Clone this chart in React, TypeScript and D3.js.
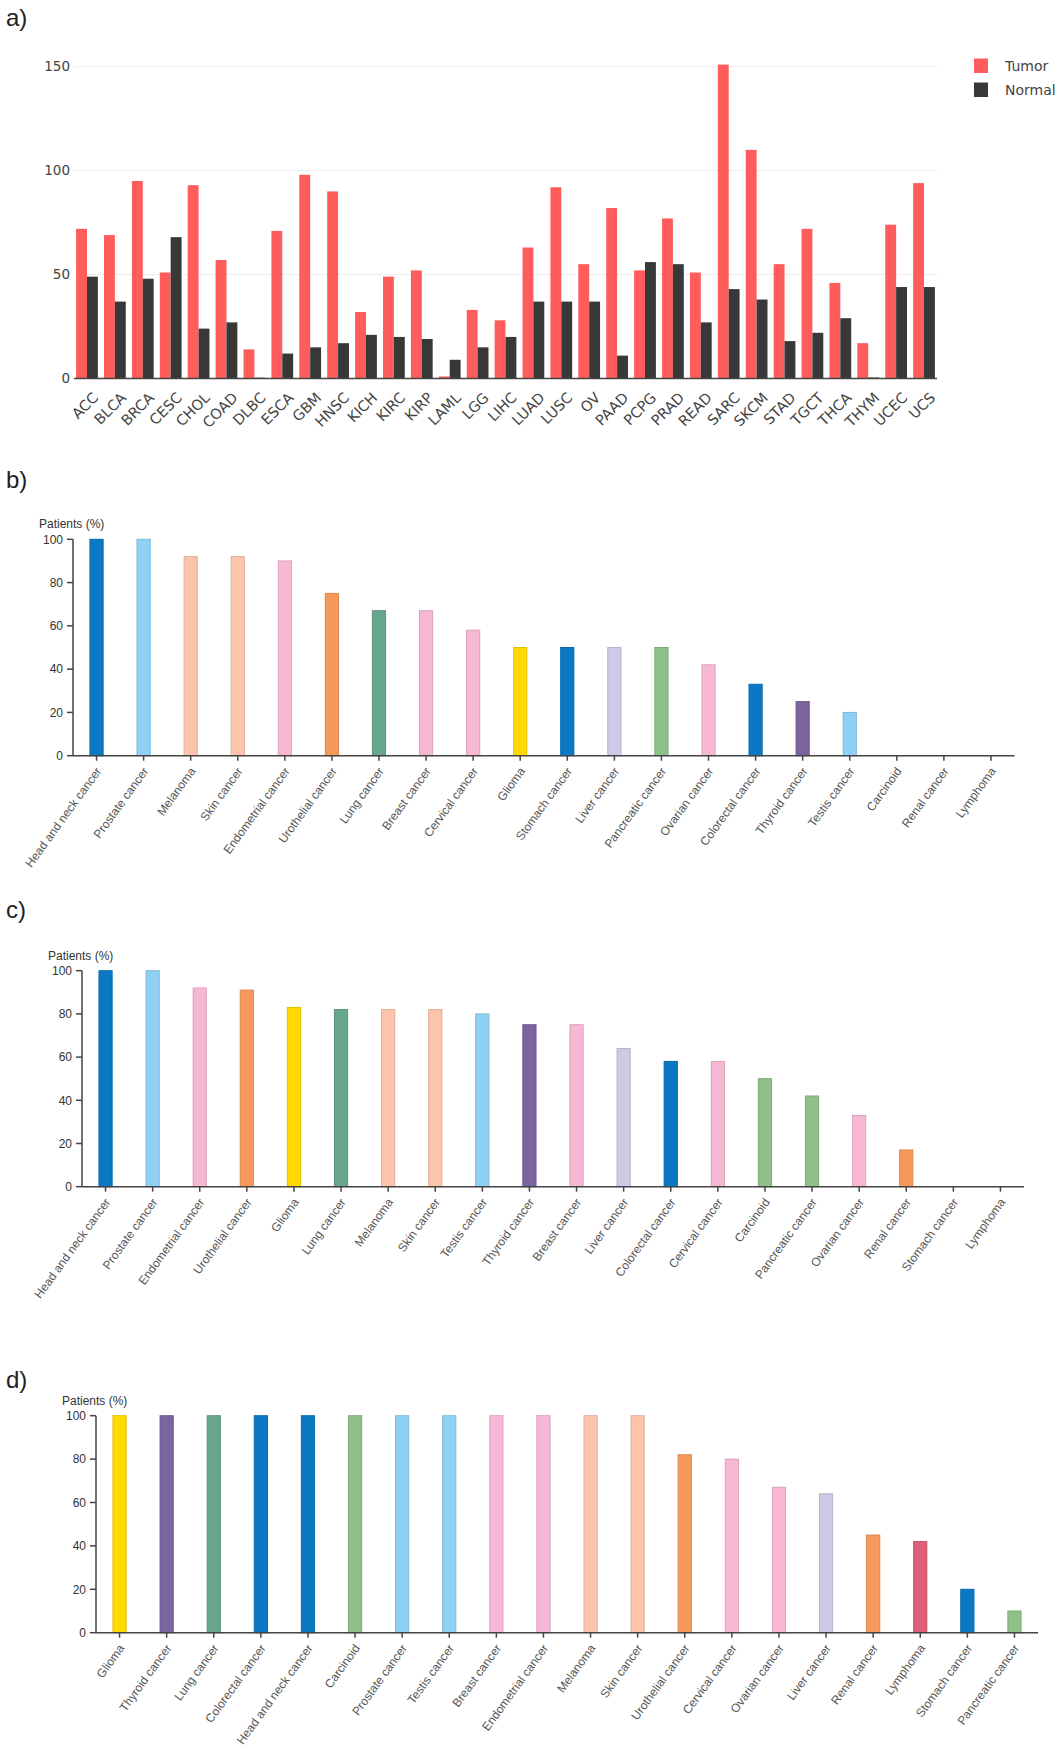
import * as d3 from 'd3';

// a) TCGA cohorts, tumor vs normal
const tcgaTypes = ['ACC', 'BLCA', 'BRCA', 'CESC', 'CHOL', 'COAD', 'DLBC', 'ESCA', 'GBM', 'HNSC', 'KICH', 'KIRC', 'KIRP', 'LAML', 'LGG', 'LIHC', 'LUAD', 'LUSC', 'OV', 'PAAD', 'PCPG', 'PRAD', 'READ', 'SARC', 'SKCM', 'STAD', 'TGCT', 'THCA', 'THYM', 'UCEC', 'UCS'];
const tumorValues = [72, 69, 95, 51, 93, 57, 14, 71, 98, 90, 32, 49, 52, 1, 33, 28, 63, 92, 55, 82, 52, 77, 51, 151, 110, 55, 72, 46, 17, 74, 94];
const normalValues = [49, 37, 48, 68, 24, 27, 0.4, 12, 15, 17, 21, 20, 19, 9, 15, 20, 37, 37, 37, 11, 56, 55, 27, 43, 38, 18, 22, 29, 0.5, 44, 44];
const seriesNames = ['Tumor', 'Normal'];
const yTicksA = [0, 50, 100, 150];

// b)
const cancersB = ['Head and neck cancer', 'Prostate cancer', 'Melanoma', 'Skin cancer', 'Endometrial cancer', 'Urothelial cancer', 'Lung cancer', 'Breast cancer', 'Cervical cancer', 'Glioma', 'Stomach cancer', 'Liver cancer', 'Pancreatic cancer', 'Ovarian cancer', 'Colorectal cancer', 'Thyroid cancer', 'Testis cancer', 'Carcinoid', 'Renal cancer', 'Lymphoma'];
const patientsB = [100, 100, 92, 92, 90, 75, 67, 67, 58, 50, 50, 50, 50, 42, 33, 25, 20, 0, 0, 0];

// c)
const cancersC = ['Head and neck cancer', 'Prostate cancer', 'Endometrial cancer', 'Urothelial cancer', 'Glioma', 'Lung cancer', 'Melanoma', 'Skin cancer', 'Testis cancer', 'Thyroid cancer', 'Breast cancer', 'Liver cancer', 'Colorectal cancer', 'Cervical cancer', 'Carcinoid', 'Pancreatic cancer', 'Ovarian cancer', 'Renal cancer', 'Stomach cancer', 'Lymphoma'];
const patientsC = [100, 100, 92, 91, 83, 82, 82, 82, 80, 75, 75, 64, 58, 58, 50, 42, 33, 17, 0, 0];

// d)
const cancersD = ['Glioma', 'Thyroid cancer', 'Lung cancer', 'Colorectal cancer', 'Head and neck cancer', 'Carcinoid', 'Prostate cancer', 'Testis cancer', 'Breast cancer', 'Endometrial cancer', 'Melanoma', 'Skin cancer', 'Urothelial cancer', 'Cervical cancer', 'Ovarian cancer', 'Liver cancer', 'Renal cancer', 'Lymphoma', 'Stomach cancer', 'Pancreatic cancer'];
const patientsD = [100, 100, 100, 100, 100, 100, 100, 100, 100, 100, 100, 100, 82, 80, 67, 64, 45, 42, 20, 10];

const pctTicks = [0, 20, 40, 60, 80, 100];

const seriesColor: Record<string, string> = { Tumor: '#ff5c5c', Normal: '#383838' };

const cancerColor: Record<string, string> = {
  'Head and neck cancer': '#0a78c2',
  'Colorectal cancer': '#0a78c2',
  'Stomach cancer': '#0a78c2',
  'Prostate cancer': '#8fd1f4',
  'Testis cancer': '#8fd1f4',
  'Melanoma': '#fcc5ab',
  'Skin cancer': '#fcc5ab',
  'Endometrial cancer': '#f7b8d4',
  'Breast cancer': '#f7b8d4',
  'Cervical cancer': '#f7b8d4',
  'Ovarian cancer': '#f7b8d4',
  'Urothelial cancer': '#f6995b',
  'Renal cancer': '#f6995b',
  'Lung cancer': '#66a68c',
  'Glioma': '#ffd900',
  'Liver cancer': '#cfc9e6',
  'Pancreatic cancer': '#8fc088',
  'Carcinoid': '#8fc088',
  'Thyroid cancer': '#7b64a0',
  'Lymphoma': '#de5f78'
};

const PLOTLY_FONT = '"DejaVu Sans", Verdana, sans-serif';
const PRISM_FONT = '"Liberation Sans", Arial, sans-serif';

function PanelA() {
  const x = d3.scaleBand().domain(tcgaTypes).range([74, 937]).paddingInner(0.22).paddingOuter(0.075);
  const sub = d3.scaleBand().domain(seriesNames).range([0, x.bandwidth()]);
  const y = d3.scaleLinear().domain([0, 150]).range([378.5, 66.7]);
  const series = [tumorValues, normalValues];

  return (
    <g>
      <text x={6} y={26} fontFamily={PRISM_FONT} fontSize={24} fill="#222">a)</text>
      {yTicksA.filter((t) => t > 0).map((t) => (
        <line key={t} x1={74} x2={937} y1={y(t)} y2={y(t)} stroke="#ececec" strokeWidth={1} />
      ))}
      {yTicksA.map((t) => (
        <text key={t} x={70} y={y(t)} dy="0.35em" textAnchor="end" fontFamily={PLOTLY_FONT} fontSize={13.5} fill="#444">{t}</text>
      ))}
      {tcgaTypes.map((c, i) => (
        <g key={c} transform={`translate(${x(c)},0)`}>
          {seriesNames.map((s, k) => (
            <rect key={s} x={sub(s)} width={sub.bandwidth()} y={y(series[k][i])} height={y(0) - y(series[k][i])} fill={seriesColor[s]} />
          ))}
        </g>
      ))}
      <line x1={74} x2={937} y1={y(0)} y2={y(0)} stroke="#444" strokeWidth={1.5} />
      {tcgaTypes.map((c) => {
        const cx = (x(c) as number) + x.bandwidth() / 2;
        return (
          <text key={c} transform={`translate(${cx + 5},${y(0) + 13}) rotate(-45)`} textAnchor="end" dy="0.7em" fontFamily={PLOTLY_FONT} fontSize={14.5} fill="#444">{c}</text>
        );
      })}
      {seriesNames.map((s, k) => (
        <g key={s} transform={`translate(974,${58.5 + k * 24})`}>
          <rect width={14} height={14.5} fill={seriesColor[s]} />
          <text x={31} y={7.2} dy="0.35em" fontFamily={PLOTLY_FONT} fontSize={14} fill="#444">{s}</text>
        </g>
      ))}
    </g>
  );
}

interface PctProps {
  label: string;
  labelY: number;
  cats: string[];
  values: number[];
  axisX: number;
  xEnd: number;
  y0: number;
  y100: number;
}

function PercentPanel({ label, labelY, cats, values, axisX, xEnd, y0, y100 }: PctProps) {
  const x = d3.scaleBand().domain(cats).range([axisX, xEnd]).paddingInner(0.72).paddingOuter(0.36);
  const y = d3.scaleLinear().domain([0, 100]).range([y0, y100]);

  return (
    <g>
      <text x={6} y={labelY} fontFamily={PRISM_FONT} fontSize={24} fill="#222">{label}</text>
      <text x={axisX - 34} y={y100 - 11} fontFamily={PRISM_FONT} fontSize={12} fill="#333">Patients (%)</text>
      {cats.map((c, i) => (
        values[i] > 0 ? (
          <rect
            key={c}
            x={x(c)}
            width={x.bandwidth()}
            y={y(values[i])}
            height={y(0) - y(values[i])}
            fill={cancerColor[c]}
            stroke={d3.color(cancerColor[c])!.darker(0.35).formatHex()}
            strokeWidth={1}
          />
        ) : null
      ))}
      <line x1={axisX} x2={axisX} y1={y0} y2={y100} stroke="#444" strokeWidth={1.5} />
      {pctTicks.map((t) => (
        <g key={t}>
          <line x1={axisX - 6} x2={axisX} y1={y(t)} y2={y(t)} stroke="#444" strokeWidth={1.5} />
          <text x={axisX - 10} y={y(t)} dy="0.35em" textAnchor="end" fontFamily={PRISM_FONT} fontSize={12} fill="#333">{t}</text>
        </g>
      ))}
      <line x1={axisX} x2={xEnd} y1={y0} y2={y0} stroke="#444" strokeWidth={1.5} />
      {cats.map((c) => {
        const cx = (x(c) as number) + x.bandwidth() / 2;
        return (
          <g key={c}>
            <line x1={cx} x2={cx} y1={y0} y2={y0 + 5} stroke="#444" strokeWidth={1.5} />
            <text transform={`translate(${cx + 2},${y0 + 13}) rotate(-54)`} textAnchor="end" dy="0.35em" fontFamily={PRISM_FONT} fontSize={12} fill="#555">{c}</text>
          </g>
        );
      })}
    </g>
  );
}

export default function App() {
  return (
    <svg width={1063} height={1749} style={{ position: 'absolute', left: 0, top: 0, background: '#fff' }}>
      <rect width={1063} height={1749} fill="#fff" />
      <PanelA />
      <PercentPanel label="b)" labelY={488} cats={cancersB} values={patientsB} axisX={73} xEnd={1014.5} y0={755.7} y100={539.3} />
      <PercentPanel label="c)" labelY={918} cats={cancersC} values={patientsC} axisX={82} xEnd={1024} y0={1186.7} y100={970.7} />
      <PercentPanel label="d)" labelY={1388} cats={cancersD} values={patientsD} axisX={96} xEnd={1038} y0={1632.7} y100={1415.7} />
    </svg>
  );
}
